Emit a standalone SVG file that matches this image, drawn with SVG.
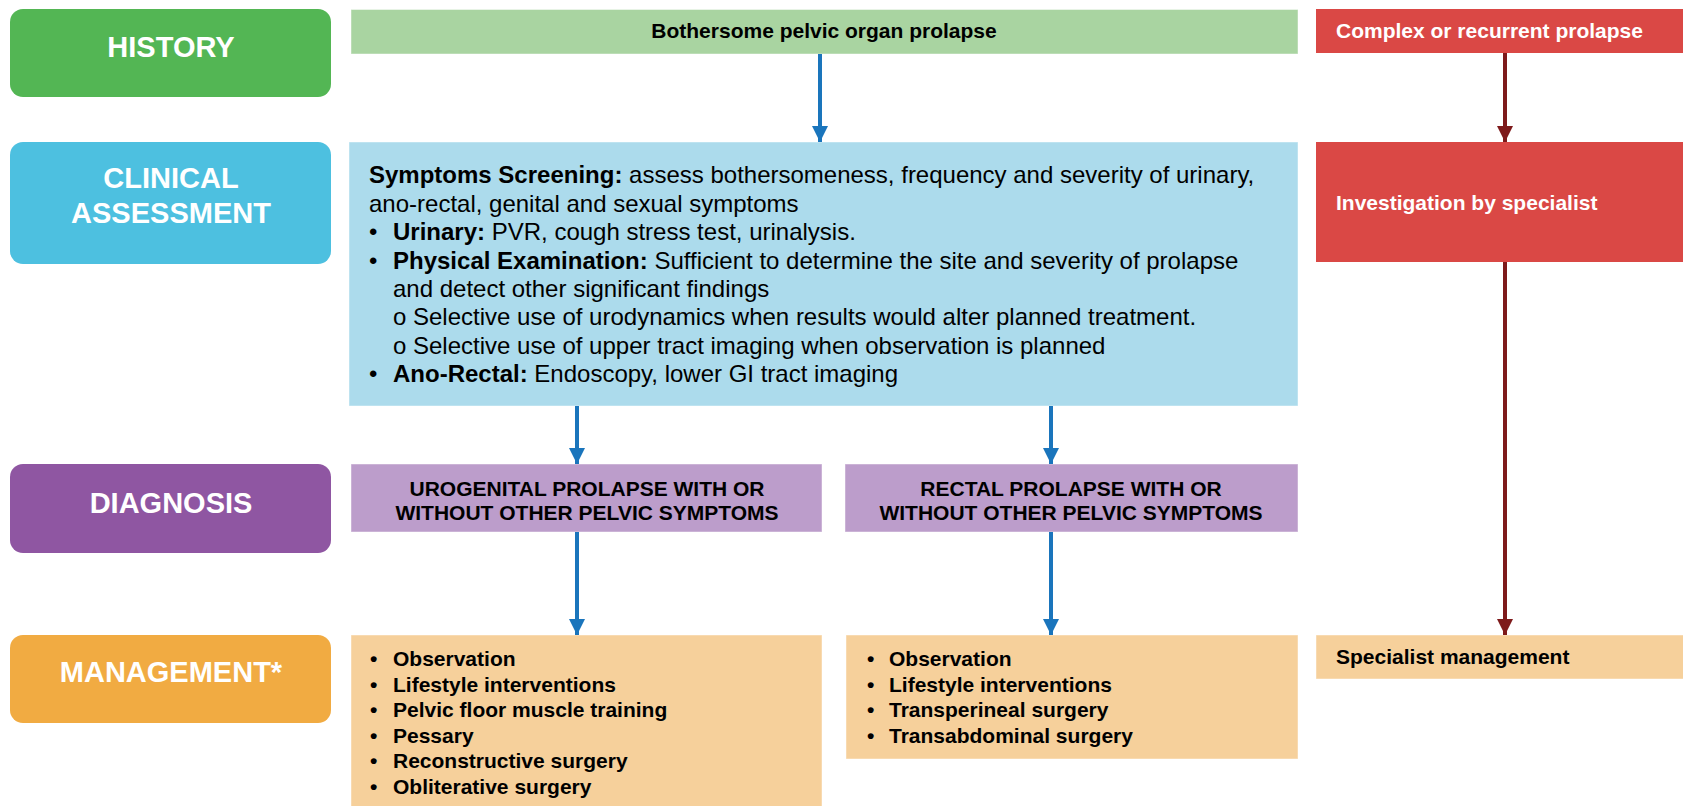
<svg xmlns="http://www.w3.org/2000/svg" width="1683" height="806" viewBox="0 0 1683 806">
  <style>
    text { font-family: "Liberation Sans", Arial, sans-serif; }
    .stage { font-weight: bold; font-size: 29px; fill: #ffffff; text-anchor: middle; }
    .head { font-weight: bold; font-size: 21px; fill: #000000; }
    .head-w { font-weight: bold; font-size: 21px; fill: #ffffff; }
    .mid { text-anchor: middle; }
    .body { font-size: 24px; fill: #000000; }
    .b { font-weight: bold; }
    .list { font-weight: bold; font-size: 21px; fill: #000000; }
    .lite { stroke: #ffffff; stroke-opacity: 0.45; stroke-width: 1; }
    .blue-line { stroke: #1A75BC; stroke-width: 4; fill: none; marker-end: url(#head-blue); }
    .red-line { stroke: #7E1A1B; stroke-width: 4; fill: none; marker-end: url(#head-red); }
  </style>
  <defs>
    <marker id="head-blue" markerUnits="userSpaceOnUse" markerWidth="16" markerHeight="16" refX="16" refY="8" orient="auto">
      <path d="M0,0 L16,8 L0,16 Z" fill="#1A75BC"/>
    </marker>
    <marker id="head-red" markerUnits="userSpaceOnUse" markerWidth="16" markerHeight="16" refX="16" refY="8" orient="auto">
      <path d="M0,0 L16,8 L0,16 Z" fill="#7E1A1B"/>
    </marker>
  </defs>

  <rect width="1683" height="806" fill="#ffffff"/>

  <!-- stage labels, left column -->
  <g id="stage-history">
    <rect x="10" y="9" width="321" height="88" rx="13" fill="#53B654"/>
    <text class="stage" x="171" y="57">HISTORY</text>
  </g>
  <g id="stage-clinical">
    <rect x="10" y="142" width="321" height="122" rx="13" fill="#4DC0E0"/>
    <text class="stage" x="171" y="188">CLINICAL</text>
    <text class="stage" x="171" y="223">ASSESSMENT</text>
  </g>
  <g id="stage-diagnosis">
    <rect x="10" y="464" width="321" height="89" rx="13" fill="#8F56A2"/>
    <text class="stage" x="171" y="513">DIAGNOSIS</text>
  </g>
  <g id="stage-management">
    <rect x="10" y="635" width="321" height="88" rx="13" fill="#F1AB42"/>
    <text class="stage" x="171" y="682">MANAGEMENT*</text>
  </g>

  <!-- main pathway -->
  <g id="node-bothersome">
    <rect class="lite" x="351" y="9.5" width="947" height="44.5" fill="#A9D4A1"/>
    <text class="head mid" x="824" y="38">Bothersome pelvic organ prolapse</text>
  </g>

  <g id="node-assessment">
    <rect class="lite" x="349" y="142" width="949" height="264" fill="#ACDBEC"/>
    <text class="body" x="369" y="183"><tspan class="b">Symptoms Screening:</tspan> assess bothersomeness, frequency and severity of urinary,</text>
    <text class="body" x="369" y="211.5">ano-rectal, genital and sexual symptoms</text>
    <text class="body" x="369" y="240">•</text>
    <text class="body" x="393" y="240"><tspan class="b">Urinary:</tspan> PVR, cough stress test, urinalysis.</text>
    <text class="body" x="369" y="268.5">•</text>
    <text class="body" x="393" y="268.5"><tspan class="b">Physical Examination:</tspan> Sufficient to determine the site and severity of prolapse</text>
    <text class="body" x="393" y="297">and detect other significant findings</text>
    <text class="body" x="393" y="325">o Selective use of urodynamics when results would alter planned treatment.</text>
    <text class="body" x="393" y="353.5">o Selective use of upper tract imaging when observation is planned</text>
    <text class="body" x="369" y="381.5">•</text>
    <text class="body" x="393" y="381.5"><tspan class="b">Ano-Rectal:</tspan> Endoscopy, lower GI tract imaging</text>
  </g>

  <g id="node-urogenital">
    <rect class="lite" x="351" y="464" width="471" height="68" fill="#BC9DCB"/>
    <text class="head mid" x="587" y="496">UROGENITAL PROLAPSE WITH OR</text>
    <text class="head mid" x="587" y="520">WITHOUT OTHER PELVIC SYMPTOMS</text>
  </g>

  <g id="node-rectal">
    <rect class="lite" x="845" y="464" width="453" height="68" fill="#BC9DCB"/>
    <text class="head mid" x="1071" y="496">RECTAL PROLAPSE WITH OR</text>
    <text class="head mid" x="1071" y="520">WITHOUT OTHER PELVIC SYMPTOMS</text>
  </g>

  <g id="node-urogenital-management">
    <rect class="lite" x="351" y="635" width="471" height="180" fill="#F6D09B"/>
    <g class="list">
      <text x="370" y="666">•</text><text x="393" y="666">Observation</text>
      <text x="370" y="691.5">•</text><text x="393" y="691.5">Lifestyle interventions</text>
      <text x="370" y="717">•</text><text x="393" y="717">Pelvic floor muscle training</text>
      <text x="370" y="742.5">•</text><text x="393" y="742.5">Pessary</text>
      <text x="370" y="768">•</text><text x="393" y="768">Reconstructive surgery</text>
      <text x="370" y="793.5">•</text><text x="393" y="793.5">Obliterative surgery</text>
    </g>
  </g>

  <g id="node-rectal-management">
    <rect class="lite" x="846" y="635" width="452" height="124" fill="#F6D09B"/>
    <g class="list">
      <text x="867" y="666">•</text><text x="889" y="666">Observation</text>
      <text x="867" y="691.5">•</text><text x="889" y="691.5">Lifestyle interventions</text>
      <text x="867" y="717">•</text><text x="889" y="717">Transperineal surgery</text>
      <text x="867" y="742.5">•</text><text x="889" y="742.5">Transabdominal surgery</text>
    </g>
  </g>

  <!-- specialist pathway, right column -->
  <g id="node-complex">
    <rect x="1316" y="9" width="380" height="44" fill="#DA4845"/>
    <text class="head-w" x="1336" y="38">Complex or recurrent prolapse</text>
  </g>
  <g id="node-investigation">
    <rect x="1316" y="142" width="380" height="120" fill="#DA4845"/>
    <text class="head-w" x="1336" y="210">Investigation by specialist</text>
  </g>
  <g id="node-specialist-management">
    <rect class="lite" x="1316" y="635" width="380" height="44" fill="#F6D09B"/>
    <text class="head" x="1336" y="664">Specialist management</text>
  </g>

  <!-- connectors -->
  <g id="connectors">
    <line class="blue-line" x1="820" y1="54" x2="820" y2="142"/>
    <line class="blue-line" x1="577" y1="406" x2="577" y2="464"/>
    <line class="blue-line" x1="1051" y1="406" x2="1051" y2="464"/>
    <line class="blue-line" x1="577" y1="532" x2="577" y2="635"/>
    <line class="blue-line" x1="1051" y1="532" x2="1051" y2="635"/>
    <line class="red-line" x1="1505" y1="53" x2="1505" y2="142"/>
    <line class="red-line" x1="1505" y1="262" x2="1505" y2="635"/>
  </g>
</svg>
